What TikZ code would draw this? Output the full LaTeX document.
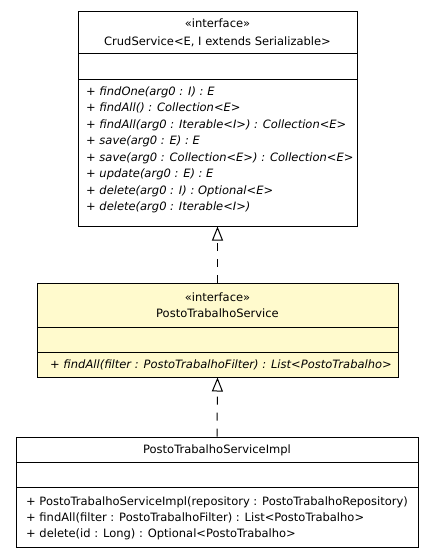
\documentclass[tikz,border=0pt]{standalone}
\usepackage{fontspec}
\setmainfont{DejaVu Sans}
\usetikzlibrary{arrows.meta}
\definecolor{ifacefill}{RGB}{255,250,205}
\begin{document}
\begin{tikzpicture}[x=1pt,y=-1pt]
		\tikzset{part/.style = {draw, line width=1pt, inner sep=0pt, minimum width=#1}}
		\tikzset{label/.style = {inner sep=0pt, font=\fontsize{11.5}{14}\selectfont}}
		\tikzset{member/.style = {label, anchor=base west}}
		\tikzset{op/.style = {member, font=\fontsize{11.5}{14}\selectfont\itshape}}
		\tikzset{title/.style = {label, anchor=base}}
		\tikzset{realize/.style = {line width=1pt, dash pattern=on 8pt off 8pt, -{Triangle[open, length=14pt, width=11pt]}}}
		
		\useasboundingbox (0,0) rectangle (435,557);
		
		\node[part=279pt, minimum height=42pt]  (crudhead) at (217.5,   32) {};
		\node[part=279pt, minimum height=26pt]  (crudattr) at (217.5,   66) {};
		\node[part=279pt, minimum height=147pt]  (crudops) at (217.5, 152.5) {};
		
		\node[part=361pt, minimum height=44pt, fill=ifacefill]  (svchead) at (217.5,  305) {};
		\node[part=361pt, minimum height=25pt, fill=ifacefill]  (svcattr) at (217.5, 339.5) {};
		\node[part=361pt, minimum height=25pt, fill=ifacefill]   (svcops) at (217.5, 364.5) {};
		
		\node[part=402pt, minimum height=25pt] (implhead) at (217, 449.5) {};
		\node[part=402pt, minimum height=25pt] (implattr) at (217, 474.5) {};
		\node[part=402pt, minimum height=60pt]  (implops) at (217,   517) {};
		
		\node[title] (crudst)   at (217.5,  27) {«interface»};
		\node[title] (crudname) at (217.5,  45) {CrudService<E, I extends Serializable>};
		\node[op] (crudop1) at (86,  95.0) {+ findOne(arg0 : I) : E};
		\node[op] (crudop2) at (86, 111.5) {+ findAll() : Collection<E>};
		\node[op] (crudop3) at (86, 128.0) {+ findAll(arg0 : Iterable<I>) : Collection<E>};
		\node[op] (crudop4) at (86, 144.5) {+ save(arg0 : E) : E};
		\node[op] (crudop5) at (86, 161.0) {+ save(arg0 : Collection<E>) : Collection<E>};
		\node[op] (crudop6) at (86, 177.5) {+ update(arg0 : E) : E};
		\node[op] (crudop7) at (86, 194.0) {+ delete(arg0 : I) : Optional<E>};
		\node[op] (crudop8) at (86, 210.5) {+ delete(arg0 : Iterable<I>)};
		
		\node[title] (svcst)   at (217.5, 301) {«interface»};
		\node[title] (svcname) at (217.5, 317) {PostoTrabalhoService};
		\node[op] (svcop1) at (50, 368) {+ findAll(filter : PostoTrabalhoFilter) : List<PostoTrabalho>};
		
		\node[title] (implname) at (217, 453) {PostoTrabalhoServiceImpl};
		\node[member] (implop1) at (26, 505) {+ PostoTrabalhoServiceImpl(repository : PostoTrabalhoRepository)};
		\node[member] (implop2) at (26, 521) {+ findAll(filter : PostoTrabalhoFilter) : List<PostoTrabalho>};
		\node[member] (implop3) at (26, 537) {+ delete(id : Long) : Optional<PostoTrabalho>};
		
		\draw[realize] (svchead.north) to (crudops.south);
		\draw[realize] (implhead.north) to (svcops.south);
\end{tikzpicture}
\end{document}
